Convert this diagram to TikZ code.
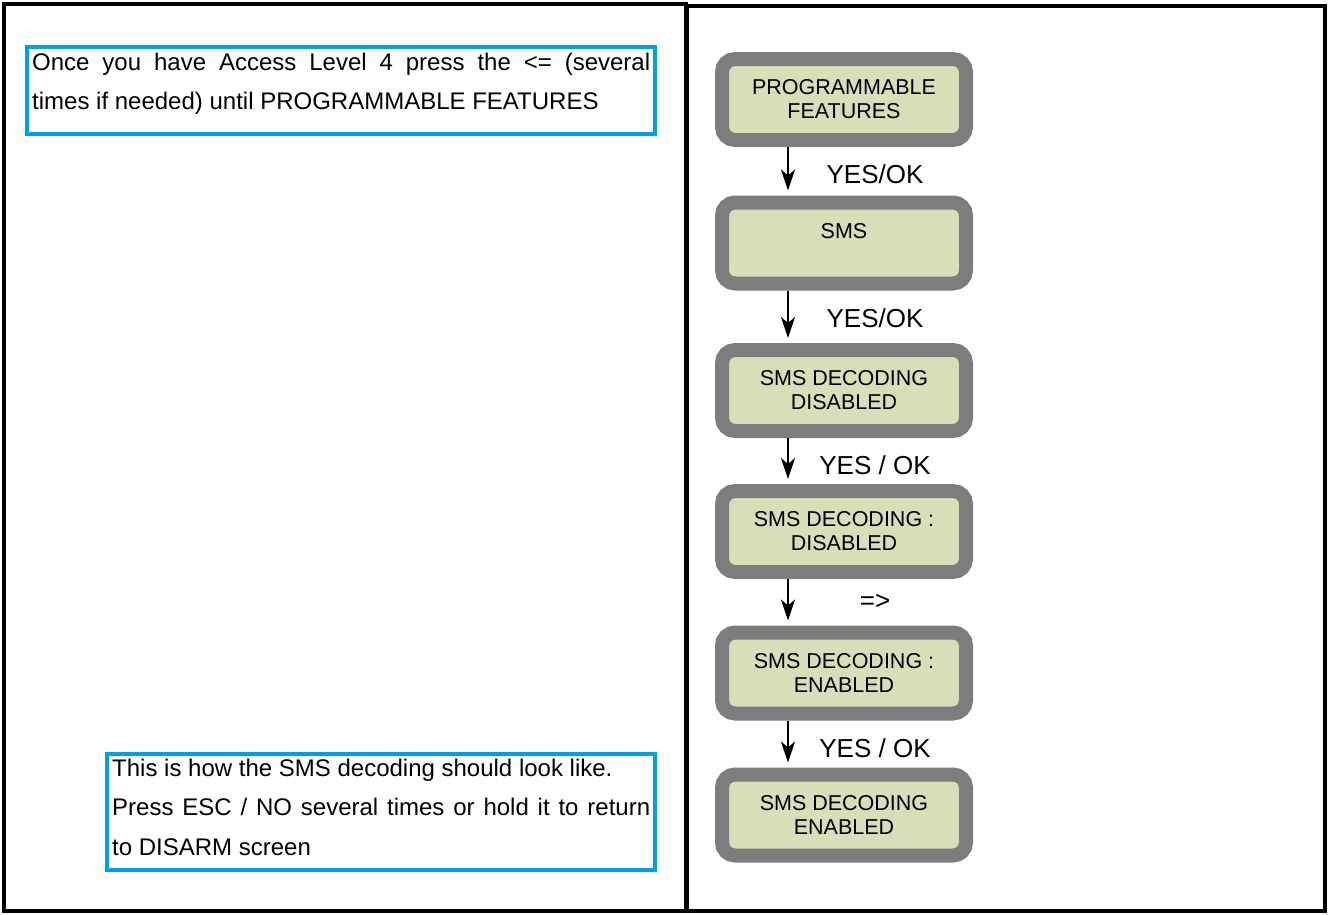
\documentclass[tikz,border=0pt]{standalone}
\usepackage{fontspec}
\setmainfont{Liberation Sans}
\usetikzlibrary{arrows.meta}

\definecolor{noteblue}{RGB}{0,160,227}
\definecolor{lcdgray}{RGB}{125,125,125}
\definecolor{lcdgreen}{RGB}{214,223,184}

\begin{document}
\begin{tikzpicture}[x=1pt, y=-1pt,
    lcd/.style={draw=lcdgray, fill=lcdgreen, line width=14pt, rounded corners=13pt,
      minimum width=244pt, minimum height=81pt, align=center,
      font=\fontsize{21.5}{24}\selectfont},
    note/.style={draw=noteblue, line width=4.5pt, inner sep=0pt},
    notetext/.style={anchor=north west, inner sep=0pt, align=justify,
      font=\fontsize{24}{39.5}\selectfont},
    step label/.style={font=\fontsize{26}{30}\selectfont},
    arr/.style={line width=2.2pt, -{Stealth[length=21pt, width=14pt, inset=6pt]}, shorten >=5pt}]
    \useasboundingbox (0,0) rectangle (1328,914);

    \draw[line width=4pt] (4,4) rectangle (686,911);
    \draw[line width=4pt] (687,6) rectangle (1325,911);

    \node[note, minimum width=628pt, minimum height=87pt] (note1) at (341,90.5) {};
    \node[notetext, text width=618pt] (note1text) at (32,42.5)
      {\strut Once you have Access Level 4 press the <= (several\linebreak times if needed) until PROGRAMMABLE FEATURES};

    \node[note, minimum width=548pt, minimum height=116pt] (note2) at (381,812) {};
    \node[notetext, text width=538pt] (note2text) at (112,748.5)
      {\strut This is how the SMS decoding should look like.\\
       Press ESC / NO several times or hold it to return\linebreak to DISARM screen};

    \node[lcd] (lcd1) at (844,99.5) {PROGRAMMABLE\\FEATURES};
    \node[lcd] (lcd2) at (844,243) {SMS\\\phantom{X}};
    \node[lcd] (lcd3) at (844,390.5) {SMS DECODING\\DISABLED};
    \node[lcd] (lcd4) at (844,531.5) {SMS DECODING :\\DISABLED};
    \node[lcd] (lcd5) at (844,673) {SMS DECODING :\\ENABLED};
    \node[lcd] (lcd6) at (844,815) {SMS DECODING\\ENABLED};

    \draw[arr] ([xshift=-56pt]lcd1.south) -- ([xshift=-56pt]lcd2.north);
    \draw[arr] ([xshift=-56pt]lcd2.south) -- ([xshift=-56pt]lcd3.north);
    \draw[arr] ([xshift=-56pt]lcd3.south) -- ([xshift=-56pt]lcd4.north);
    \draw[arr] ([xshift=-56pt]lcd4.south) -- ([xshift=-56pt]lcd5.north);
    \draw[arr] ([xshift=-56pt]lcd5.south) -- ([xshift=-56pt]lcd6.north);

    \node[step label] (ok1) at (875,174) {YES/OK};
    \node[step label] (ok2) at (875,318) {YES/OK};
    \node[step label] (ok3) at (875,465) {YES / OK};
    \node[step label] (next4) at (875,602) {=>};
    \node[step label] (ok5) at (875,748) {YES / OK};
\end{tikzpicture}
\end{document}
